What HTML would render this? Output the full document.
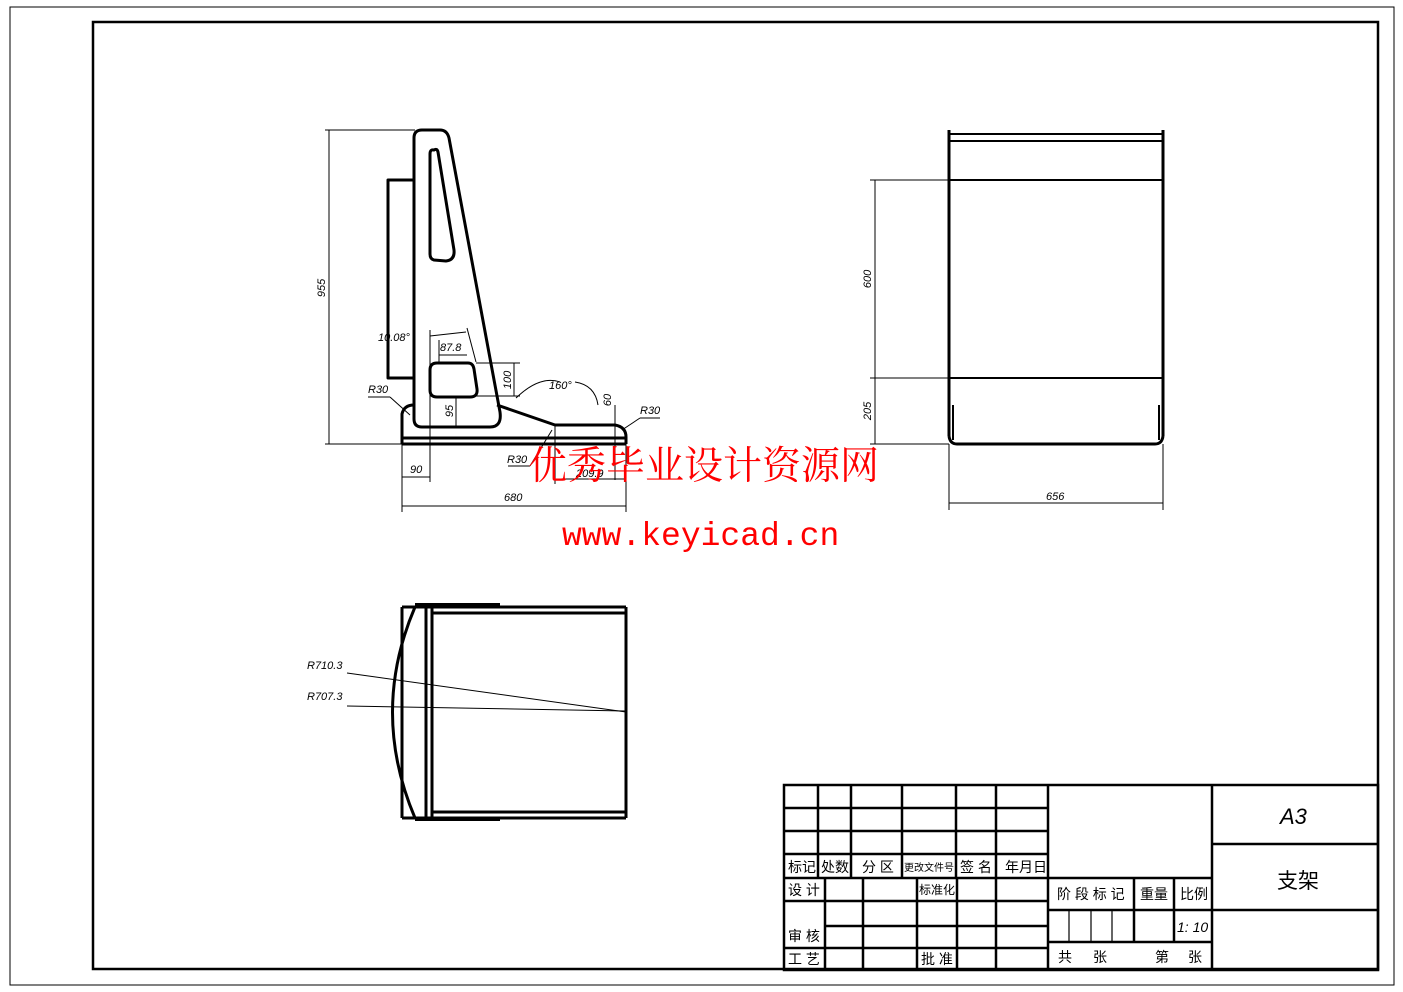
<!DOCTYPE html>
<html><head><meta charset="utf-8"><style>
html,body{margin:0;padding:0;background:#fff;}
svg{display:block;}
text{font-family:"Liberation Sans","Noto Sans CJK SC",sans-serif;}
.d{font-size:11px;font-style:italic;fill:#000;}
.t{font-size:14px;fill:#000;}
</style></head><body>
<svg width="1403" height="992" viewBox="0 0 1403 992" xmlns="http://www.w3.org/2000/svg">
<rect x="10" y="7" width="1384" height="978" fill="none" stroke="#000" stroke-width="1"/>
<rect x="93" y="22" width="1285" height="947" fill="none" stroke="#000" stroke-width="2.5"/>

<!-- Side view -->
<g fill="none" stroke="#000" stroke-width="3" stroke-linejoin="round">
<rect x="388" y="180" width="26" height="198"/>
<path d="M422,130 L440,130 Q447,130 449,138 L500,412 Q502,427 490,427 L422,427 Q414,427 414,419 L414,138 Q414,130 422,130 Z"/>
<path d="M434,150 Q437,148 438,152 L454,250 Q455,260 446,261 L434,260 Q430,259 430,254 L430,154 Q430,149 434,150 Z"/>
<path d="M437,363 L468,363 Q473,363 474,369 L477,389 Q478,397 470,397 L437,397 Q430,397 430,390 L430,370 Q430,363 437,363 Z"/>
<path d="M402,444 L402,414 Q404,405 414,405"/>
<path d="M497,405 L555,425 L615,425 Q626,427 626,437 L626,444"/>
<line x1="402" y1="438" x2="626" y2="438"/>
<line x1="402" y1="444" x2="626" y2="444"/>
</g>
<g stroke="#000" stroke-width="1" fill="none">
<line x1="325" y1="130" x2="415" y2="130"/><line x1="325" y1="444" x2="402" y2="444"/>
<line x1="329" y1="130" x2="329" y2="444"/>
<line x1="402" y1="444" x2="402" y2="512"/><line x1="626" y1="444" x2="626" y2="512"/>
<line x1="430" y1="330" x2="430" y2="482"/>
<line x1="402" y1="477" x2="430" y2="477"/>
<line x1="402" y1="506" x2="626" y2="506"/>
<line x1="555" y1="425" x2="555" y2="484"/>
<line x1="555" y1="479" x2="626" y2="479"/>
<line x1="615" y1="405" x2="615" y2="480"/>
<line x1="476" y1="363" x2="520" y2="363"/><line x1="476" y1="396" x2="520" y2="396"/>
<line x1="514" y1="363" x2="514" y2="396"/>
<line x1="456" y1="396" x2="456" y2="427"/>
<line x1="439" y1="355" x2="467" y2="355"/>
<line x1="439" y1="340" x2="439" y2="362"/><line x1="467" y1="328" x2="476" y2="362"/>
<line x1="430" y1="336" x2="466" y2="332"/>
<path d="M516,398 Q540,375 560,382 M575,382 Q595,385 598,405"/>
<line x1="368" y1="397" x2="390" y2="397"/><line x1="390" y1="397" x2="410" y2="415"/>
<line x1="640" y1="418" x2="660" y2="418"/><line x1="640" y1="418" x2="622" y2="430"/>
<line x1="508" y1="466" x2="530" y2="466"/><line x1="530" y1="466" x2="552" y2="430"/>
</g>
<text class="d" transform="translate(325,288) rotate(-90)" text-anchor="middle">955</text>
<text class="d" x="410" y="473">90</text>
<text class="d" x="504" y="501">680</text>
<text class="d" x="576" y="477">209.9</text>
<text class="d" transform="translate(611,400) rotate(-90)" text-anchor="middle">60</text>
<text class="d" x="368" y="393">R30</text>
<text class="d" x="640" y="414">R30</text>
<text class="d" x="507" y="463">R30</text>
<text class="d" x="549" y="389">160°</text>
<text class="d" transform="translate(511,380) rotate(-90)" text-anchor="middle">100</text>
<text class="d" transform="translate(453,411) rotate(-90)" text-anchor="middle">95</text>
<text class="d" x="440" y="351">87.8</text>
<text class="d" x="378" y="341">10.08°</text>

<!-- Right view -->
<g fill="none" stroke="#000" stroke-width="3">
<line x1="949" y1="130" x2="949" y2="436"/>
<line x1="1163" y1="130" x2="1163" y2="436"/>
<path d="M949,436 Q950,444 957,444 L1155,444 Q1162,444 1163,436"/>
<line x1="949" y1="134" x2="1163" y2="134" stroke-width="2"/>
<line x1="949" y1="141" x2="1163" y2="141" stroke-width="2"/>
<line x1="949" y1="180" x2="1163" y2="180" stroke-width="2"/>
<line x1="949" y1="378" x2="1163" y2="378" stroke-width="2"/>
<line x1="953" y1="405" x2="953" y2="440" stroke-width="2"/>
<line x1="1159" y1="405" x2="1159" y2="440" stroke-width="2"/>
</g>
<g stroke="#000" stroke-width="1">
<line x1="870" y1="180" x2="949" y2="180"/><line x1="870" y1="378" x2="949" y2="378"/><line x1="870" y1="444" x2="949" y2="444"/>
<line x1="875" y1="180" x2="875" y2="444"/>
<line x1="949" y1="444" x2="949" y2="510"/><line x1="1163" y1="444" x2="1163" y2="510"/>
<line x1="949" y1="503" x2="1163" y2="503"/>
</g>
<text class="d" transform="translate(871,279) rotate(-90)" text-anchor="middle">600</text>
<text class="d" transform="translate(871,411) rotate(-90)" text-anchor="middle">205</text>
<text class="d" x="1046" y="500">656</text>

<!-- Bottom view -->
<g fill="none" stroke="#000">
<line x1="415" y1="605" x2="500" y2="605" stroke-width="4"/>
<line x1="415" y1="819" x2="500" y2="819" stroke-width="4"/>
<line x1="402" y1="607" x2="626" y2="607" stroke-width="3"/>
<line x1="432" y1="613" x2="626" y2="613" stroke-width="3"/>
<line x1="402" y1="818" x2="626" y2="818" stroke-width="3"/>
<line x1="432" y1="812" x2="626" y2="812" stroke-width="3"/>
<line x1="402" y1="607" x2="402" y2="818" stroke-width="3"/>
<line x1="426" y1="607" x2="426" y2="818" stroke-width="3"/>
<line x1="432" y1="607" x2="432" y2="818" stroke-width="3"/>
<line x1="626" y1="607" x2="626" y2="818" stroke-width="3"/>
<path d="M415,607 Q370,712 415,818" stroke-width="3"/>
<line x1="347" y1="673" x2="626" y2="712" stroke-width="1"/>
<line x1="347" y1="706" x2="626" y2="711" stroke-width="1"/>
</g>
<text class="d" x="307" y="669">R710.3</text>
<text class="d" x="307" y="700">R707.3</text>

<!-- Title block -->
<g stroke="#000" stroke-width="2.5" fill="none">
<rect x="784" y="785" width="594" height="185"/>
<line x1="784" y1="808" x2="1048" y2="808"/>
<line x1="784" y1="831" x2="1048" y2="831"/>
<line x1="784" y1="854" x2="1048" y2="854"/>
<line x1="784" y1="878" x2="1212" y2="878"/>
<line x1="784" y1="901" x2="1048" y2="901"/>
<line x1="825" y1="926" x2="1048" y2="926"/>
<line x1="784" y1="948" x2="1048" y2="948"/>
<line x1="818" y1="785" x2="818" y2="878"/>
<line x1="851" y1="785" x2="851" y2="878"/>
<line x1="902" y1="785" x2="902" y2="878"/>
<line x1="956" y1="785" x2="956" y2="878"/>
<line x1="996" y1="785" x2="996" y2="970"/>
<line x1="1048" y1="785" x2="1048" y2="970"/>
<line x1="825" y1="878" x2="825" y2="970"/>
<line x1="863" y1="878" x2="863" y2="970"/>
<line x1="917" y1="878" x2="917" y2="970"/>
<line x1="957" y1="878" x2="957" y2="970"/>
<line x1="1212" y1="785" x2="1212" y2="970"/>
<line x1="1048" y1="910" x2="1212" y2="910"/>
<line x1="1048" y1="942" x2="1212" y2="942"/>
<line x1="1134" y1="878" x2="1134" y2="942"/>
<line x1="1174" y1="878" x2="1174" y2="942"/>
<line x1="1212" y1="844" x2="1378" y2="844"/>
<line x1="1212" y1="910" x2="1378" y2="910"/>
</g>
<g stroke="#000" stroke-width="1.2">
<line x1="1069" y1="910" x2="1069" y2="942"/>
<line x1="1091" y1="910" x2="1091" y2="942"/>
<line x1="1112" y1="910" x2="1112" y2="942"/>
</g>
<g class="t">
<text class="t" x="788" y="872">标记</text>
<text class="t" x="821" y="872">处数</text>
<text class="t" x="862" y="872">分 区</text>
<text class="t" x="904" y="871" style="font-size:10px">更改文件号</text>
<text class="t" x="960" y="872">签 名</text>
<text class="t" x="1005" y="872">年月日</text>
<text class="t" x="788" y="895">设 计</text>
<text class="t" x="919" y="894" style="font-size:12px">标准化</text>
<text class="t" x="788" y="941">审 核</text>
<text class="t" x="788" y="964">工 艺</text>
<text class="t" x="921" y="964">批 准</text>
<text class="t" x="1057" y="899">阶 段 标 记</text>
<text class="t" x="1140" y="899">重量</text>
<text class="t" x="1180" y="899">比例</text>
<text class="t" x="1177" y="932" font-style="italic">1: 10</text>
<text class="t" x="1058" y="962">共</text>
<text class="t" x="1093" y="962">张</text>
<text class="t" x="1155" y="962">第</text>
<text class="t" x="1188" y="962">张</text>
<text x="1280" y="824" font-size="22" font-style="italic" fill="#000">A3</text>
<text x="1277" y="888" font-size="21" fill="#000">支架</text>
</g>

<!-- Watermark -->
<text x="528" y="479" fill="#ff0000" style="font-size:39px;font-family:'Noto Serif CJK SC','Noto Sans CJK SC',serif">优秀毕业设计资源网</text>
<text x="562" y="545" fill="#ff0000" style="font-size:33px;font-family:'Liberation Mono',monospace">www.keyicad.cn</text>
</svg>
</body></html>
